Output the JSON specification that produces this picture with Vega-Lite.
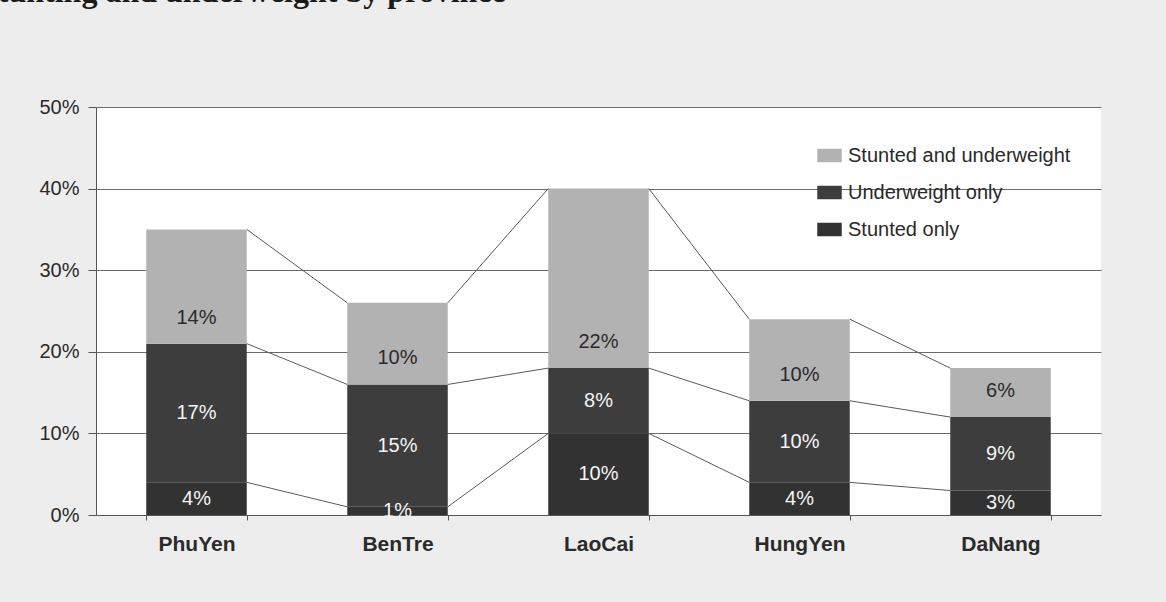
{
  "$schema": "https://vega.github.io/schema/vega-lite/v6.json",
  "width": 1005,
  "height": 408,
  "autosize": {"type": "none"},
  "padding": {"left": 96, "top": 107, "right": 65, "bottom": 87},
  "background": "#ededed",
  "config": {
    "view": {"fill": "#ffffff", "stroke": null},
    "font": "Liberation Sans"
  },
  "title": {
    "text": "Stunting and underweight by province",
    "anchor": "start",
    "frame": "group",
    "font": "Liberation Serif",
    "fontSize": 32,
    "fontWeight": "bold",
    "color": "#1a1a1a",
    "baseline": "alphabetic",
    "offset": 63,
    "dx": -116
  },
  "data": {
    "values": [
      {"province": "PhuYen", "segment": "Stunted only", "layer": 1, "value": 4},
      {"province": "PhuYen", "segment": "Underweight only", "layer": 2, "value": 17},
      {"province": "PhuYen", "segment": "Stunted and underweight", "layer": 3, "value": 14},
      {"province": "BenTre", "segment": "Stunted only", "layer": 1, "value": 1},
      {"province": "BenTre", "segment": "Underweight only", "layer": 2, "value": 15},
      {"province": "BenTre", "segment": "Stunted and underweight", "layer": 3, "value": 10},
      {"province": "LaoCai", "segment": "Stunted only", "layer": 1, "value": 10},
      {"province": "LaoCai", "segment": "Underweight only", "layer": 2, "value": 8},
      {"province": "LaoCai", "segment": "Stunted and underweight", "layer": 3, "value": 22},
      {"province": "HungYen", "segment": "Stunted only", "layer": 1, "value": 4},
      {"province": "HungYen", "segment": "Underweight only", "layer": 2, "value": 10},
      {"province": "HungYen", "segment": "Stunted and underweight", "layer": 3, "value": 10},
      {"province": "DaNang", "segment": "Stunted only", "layer": 1, "value": 3},
      {"province": "DaNang", "segment": "Underweight only", "layer": 2, "value": 9},
      {"province": "DaNang", "segment": "Stunted and underweight", "layer": 3, "value": 6}
    ]
  },
  "transform": [
    {"stack": "value", "groupby": ["province"], "sort": [{"field": "layer", "order": "ascending"}], "as": ["y0", "y1"]},
    {"calculate": "datum.value + '%'", "as": "label"}
  ],
  "layer": [
    {
      "mark": {"type": "bar"},
      "encoding": {
        "x": {
          "field": "province",
          "type": "nominal",
          "sort": ["PhuYen", "BenTre", "LaoCai", "HungYen", "DaNang"],
          "scale": {"paddingInner": 0.5, "paddingOuter": 0.25},
          "axis": {
            "title": null,
            "labelAngle": 0,
            "labelFontSize": 21,
            "labelFontWeight": "bold",
            "labelColor": "#2a2a2a",
            "labelPadding": 13,
            "domainColor": "#555",
            "tickColor": "#555",
            "tickBand": "extent",
            "tickSize": 5,
            "grid": false
          }
        },
        "y": {
          "field": "y0",
          "type": "quantitative",
          "scale": {"domain": [0, 50], "nice": false},
          "axis": {
            "title": null,
            "values": [0, 10, 20, 30, 40, 50],
            "labelExpr": "datum.value + '%'",
            "labelFontSize": 20,
            "labelColor": "#2a2a2a",
            "labelPadding": 9,
            "tickSize": 8,
            "tickColor": "#555",
            "domainColor": "#555",
            "grid": true,
            "gridColor": "#6a6a6a",
            "gridOpacity": 1
          }
        },
        "y2": {"field": "y1"},
        "color": {
          "field": "segment",
          "type": "nominal",
          "scale": {
            "domain": ["Stunted and underweight", "Underweight only", "Stunted only"],
            "range": ["#b2b2b2", "#3d3d3d", "#323232"]
          },
          "legend": {
            "title": null,
            "orient": "none",
            "legendX": 721,
            "legendY": 36,
            "labelFontSize": 20,
            "labelColor": "#2a2a2a",
            "labelOffset": 6,
            "labelLimit": 400,
            "symbolType": "M-1,-0.55H1V0.55H-1Z",
            "symbolSize": 600,
            "symbolStrokeWidth": 0,
            "rowPadding": 14
          }
        }
      }
    },
    {
      "transform": [
        {"window": [{"op": "lead", "field": "y1", "as": "ny1"}, {"op": "lead", "field": "province", "as": "nprov"}], "groupby": ["segment"]},
        {"filter": "datum.nprov != null"}
      ],
      "mark": {"type": "rule", "color": "#5a5a5a", "strokeWidth": 1},
      "encoding": {
        "x": {"field": "province", "type": "nominal", "sort": ["PhuYen", "BenTre", "LaoCai", "HungYen", "DaNang"], "bandPosition": 1},
        "x2": {"field": "nprov", "bandPosition": 0},
        "y": {"field": "y1", "type": "quantitative"},
        "y2": {"field": "ny1"}
      }
    },
    {
      "transform": [
        {"filter": "datum.layer < 3"},
        {"calculate": "(datum.y0 + datum.y1) / 2", "as": "ymid"}
      ],
      "mark": {"type": "text", "fontSize": 20, "color": "#f4f4f4", "baseline": "middle"},
      "encoding": {
        "x": {"field": "province", "type": "nominal", "sort": ["PhuYen", "BenTre", "LaoCai", "HungYen", "DaNang"]},
        "y": {"field": "ymid", "type": "quantitative"},
        "text": {"field": "label"}
      }
    },
    {
      "transform": [{"filter": "datum.layer == 3"}],
      "mark": {"type": "text", "fontSize": 20, "color": "#2a2a2a", "baseline": "middle", "dy": -26},
      "encoding": {
        "x": {"field": "province", "type": "nominal", "sort": ["PhuYen", "BenTre", "LaoCai", "HungYen", "DaNang"]},
        "y": {"field": "y0", "type": "quantitative"},
        "text": {"field": "label"}
      }
    }
  ]
}
